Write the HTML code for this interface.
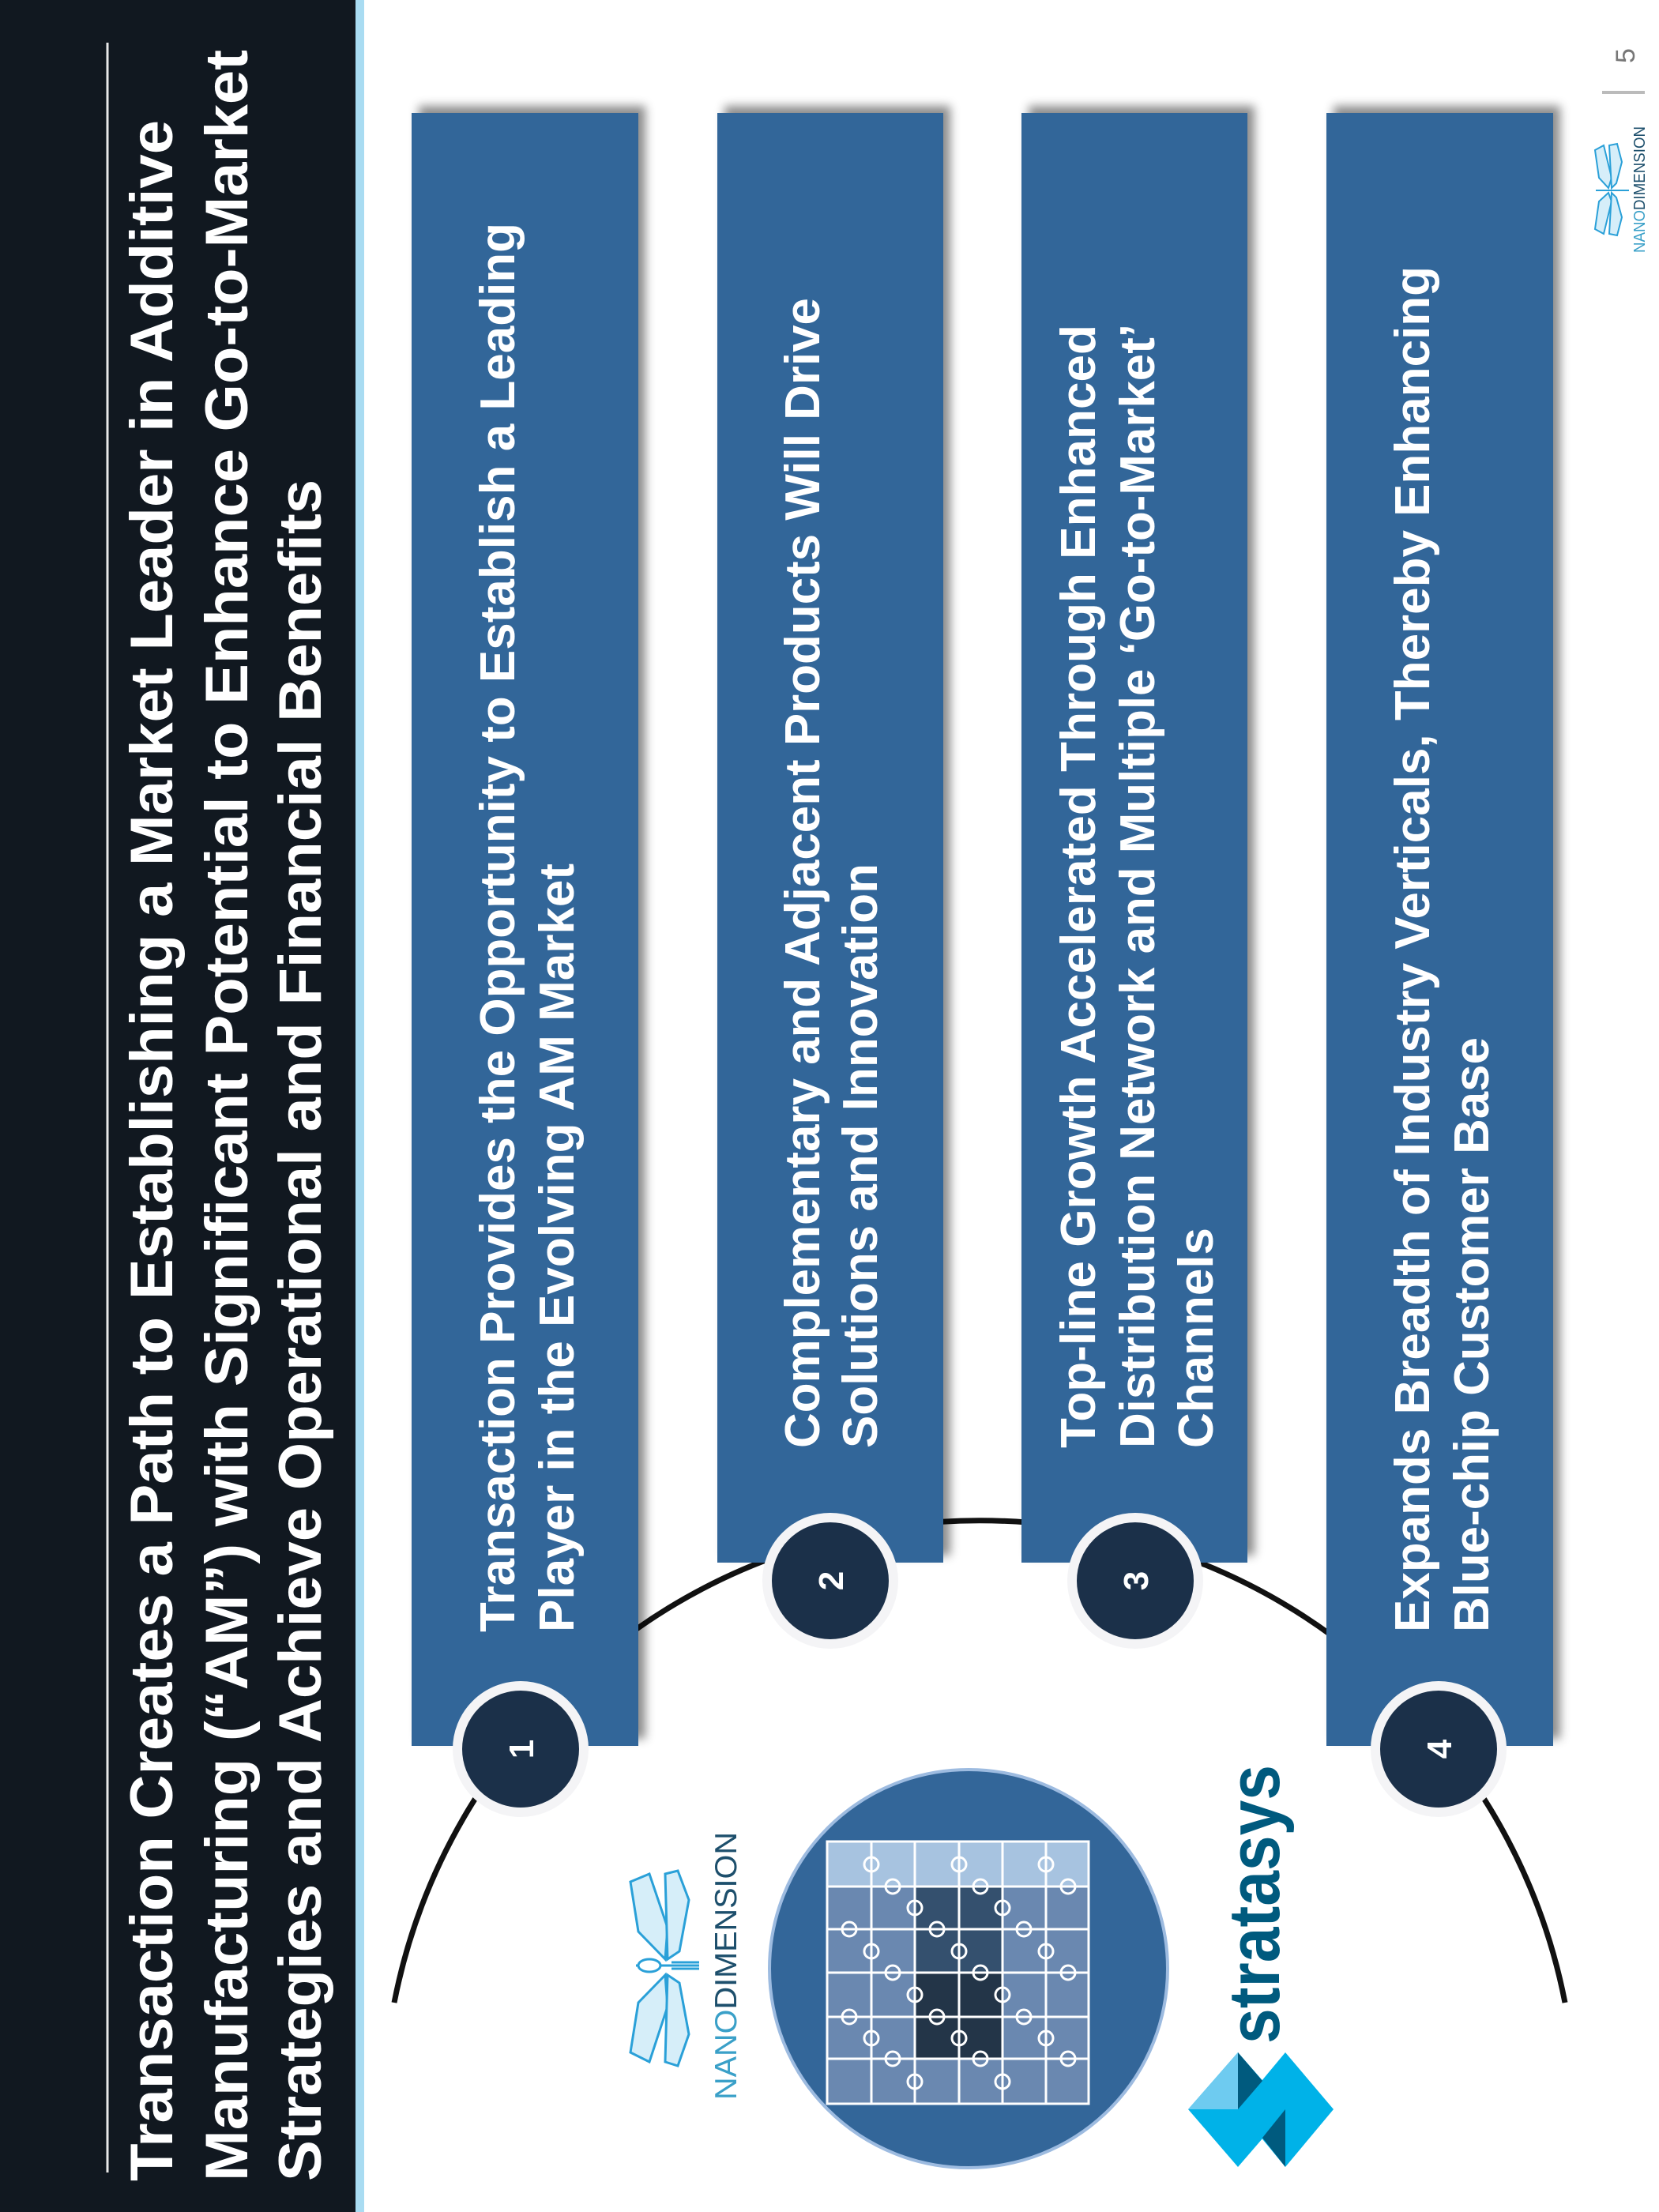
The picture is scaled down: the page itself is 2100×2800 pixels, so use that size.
<!DOCTYPE html>
<html><head><meta charset="utf-8"><style>
html,body{margin:0;padding:0;background:#fff;}
svg{display:block;}
text{font-family:"Liberation Sans",Arial,sans-serif;}
</style></head><body>
<svg width="2100" height="2800" viewBox="0 0 2100 2800" xmlns="http://www.w3.org/2000/svg">
<defs>
<filter id="sh" x="-10%" y="-10%" width="130%" height="120%">
<feDropShadow dx="9" dy="-9" stdDeviation="6" flood-color="#000" flood-opacity="0.45"/>
</filter>
</defs>
<rect width="2100" height="2800" fill="#fff"/>
<!-- title panel -->
<rect x="0" y="0" width="450" height="2800" fill="#111820"/>
<rect x="450" y="0" width="11" height="2800" fill="#a9dcf2"/>
<line x1="136" y1="54" x2="136" y2="2750" stroke="#e8e8e8" stroke-width="3"/>
<g fill="#fff" font-weight="bold" font-size="76">
<text x="218" y="2761" transform="rotate(-90 218 2761)" textLength="2609" lengthAdjust="spacingAndGlyphs">Transaction Creates a Path to Establishing a Market Leader in Additive</text>
<text x="313" y="2761" transform="rotate(-90 313 2761)" textLength="2698" lengthAdjust="spacingAndGlyphs">Manufacturing (“AM”) with Significant Potential to Enhance Go-to-Market</text>
<text x="406" y="2761" transform="rotate(-90 406 2761)" textLength="2154" lengthAdjust="spacingAndGlyphs">Strategies and Achieve Operational and Financial Benefits</text>
</g>
<!-- arc -->
<path d="M499 2535 A755 755 0 0 1 1981 2535" fill="none" stroke="#111" stroke-width="7"/>
<!-- bars -->
<g fill="#336699" filter="url(#sh)">
<rect x="521" y="143" width="287" height="2067"/>
<rect x="908" y="143" width="286" height="1835"/>
<rect x="1293" y="143" width="286" height="1835"/>
<rect x="1679" y="143" width="287" height="2067"/>
</g>
<g fill="#fff" font-weight="bold" font-size="62">
<text x="651" y="2066" transform="rotate(-90 651 2066)" textLength="1784" lengthAdjust="spacingAndGlyphs">Transaction Provides the Opportunity to Establish a Leading</text>
<text x="726" y="2066" transform="rotate(-90 726 2066)" textLength="973" lengthAdjust="spacingAndGlyphs">Player in the Evolving AM Market</text>
<text x="1037" y="1833" transform="rotate(-90 1037 1833)" textLength="1456" lengthAdjust="spacingAndGlyphs">Complementary and Adjacent Products Will Drive</text>
<text x="1110" y="1833" transform="rotate(-90 1110 1833)" textLength="740" lengthAdjust="spacingAndGlyphs">Solutions and Innovation</text>
<text x="1386" y="1833" transform="rotate(-90 1386 1833)" textLength="1422" lengthAdjust="spacingAndGlyphs">Top-line Growth Accelerated Through Enhanced</text>
<text x="1461" y="1833" transform="rotate(-90 1461 1833)" textLength="1423" lengthAdjust="spacingAndGlyphs">Distribution Network and Multiple ‘Go-to-Market’</text>
<text x="1535" y="1833" transform="rotate(-90 1535 1833)" textLength="279" lengthAdjust="spacingAndGlyphs">Channels</text>
<text x="1809" y="2066" transform="rotate(-90 1809 2066)" textLength="1729" lengthAdjust="spacingAndGlyphs">Expands Breadth of Industry Verticals, Thereby Enhancing</text>
<text x="1884" y="2066" transform="rotate(-90 1884 2066)" textLength="753" lengthAdjust="spacingAndGlyphs">Blue-chip Customer Base</text>
</g>
<!-- number circles -->
<g fill="#1b3049" stroke="#f4f4f6" stroke-width="12">
<circle cx="659" cy="2214" r="80"/>
<circle cx="1051" cy="2001" r="80"/>
<circle cx="1437" cy="2001" r="80"/>
<circle cx="1821" cy="2214" r="80"/>
</g>
<g fill="#fff" font-weight="bold" font-size="44" text-anchor="middle">
<text x="675" y="2214" transform="rotate(-90 675 2214)">1</text>
<text x="1067" y="2001" transform="rotate(-90 1067 2001)">2</text>
<text x="1453" y="2001" transform="rotate(-90 1453 2001)">3</text>
<text x="1837" y="2214" transform="rotate(-90 1837 2214)">4</text>
</g>
<!-- big puzzle circle -->
<circle cx="1226" cy="2492" r="252" fill="#336699" stroke="#9dbbe0" stroke-width="4"/>
<g stroke="#fff" stroke-width="3">
<rect x="1047" y="2331" width="331" height="332" fill="#6a88b0"/>
<rect x="1047" y="2331" width="331" height="57" fill="#a7c3e0"/>
<rect x="1158" y="2388" width="111" height="109" fill="#34506e"/>
<rect x="1158" y="2497" width="111" height="109" fill="#233548"/>
</g>
<g stroke="#fff" stroke-width="3" fill="none">
<line x1="1103" y1="2331" x2="1103" y2="2663"/>
<line x1="1158" y1="2331" x2="1158" y2="2663"/>
<line x1="1214" y1="2331" x2="1214" y2="2663"/>
<line x1="1269" y1="2331" x2="1269" y2="2663"/>
<line x1="1324" y1="2331" x2="1324" y2="2663"/>
<line x1="1047" y1="2388" x2="1378" y2="2388"/>
<line x1="1047" y1="2442" x2="1378" y2="2442"/>
<line x1="1047" y1="2497" x2="1378" y2="2497"/>
<line x1="1047" y1="2553" x2="1378" y2="2553"/>
<line x1="1047" y1="2606" x2="1378" y2="2606"/>
</g>
<g fill="none" stroke="#fff" stroke-width="3">
<circle cx="1103" cy="2360" r="9"/><circle cx="1214" cy="2360" r="9"/><circle cx="1324" cy="2360" r="9"/>
<circle cx="1130" cy="2388" r="9"/><circle cx="1241" cy="2388" r="9"/><circle cx="1352" cy="2388" r="9"/>
<circle cx="1158" cy="2415" r="9"/><circle cx="1269" cy="2415" r="9"/><circle cx="1075" cy="2442" r="9"/>
<circle cx="1186" cy="2442" r="9"/><circle cx="1296" cy="2442" r="9"/><circle cx="1103" cy="2470" r="9"/>
<circle cx="1214" cy="2470" r="9"/><circle cx="1324" cy="2470" r="9"/><circle cx="1130" cy="2497" r="9"/>
<circle cx="1241" cy="2497" r="9"/><circle cx="1352" cy="2497" r="9"/><circle cx="1158" cy="2525" r="9"/>
<circle cx="1269" cy="2525" r="9"/><circle cx="1075" cy="2553" r="9"/><circle cx="1186" cy="2553" r="9"/>
<circle cx="1296" cy="2553" r="9"/><circle cx="1103" cy="2580" r="9"/><circle cx="1214" cy="2580" r="9"/>
<circle cx="1324" cy="2580" r="9"/><circle cx="1130" cy="2606" r="9"/><circle cx="1241" cy="2606" r="9"/>
<circle cx="1352" cy="2606" r="9"/><circle cx="1158" cy="2635" r="9"/><circle cx="1269" cy="2635" r="9"/>
</g>
<!-- nano dimension logo (large) -->
<g fill="#d6eef9" stroke="#2aa0d8" stroke-width="3">
<polygon points="798,2382 822,2372 845,2440 842,2480 808,2445"/>
<polygon points="842,2372 858,2368 872,2405 860,2470 845,2480"/>
<polygon points="798,2598 822,2610 845,2540 842,2500 808,2535"/>
<polygon points="842,2610 858,2615 872,2575 860,2510 845,2500"/>
</g>
<g stroke="#2aa0d8" stroke-width="3" fill="#2aa0d8">
<line x1="805" y1="2488" x2="885" y2="2488"/>
<line x1="850" y1="2484" x2="885" y2="2484"/>
<line x1="850" y1="2492" x2="885" y2="2492"/>
<ellipse cx="822" cy="2488" rx="14" ry="8" fill="#fff"/>
</g>
<text x="932" y="2658" transform="rotate(-90 932 2658)" font-size="39" textLength="339" lengthAdjust="spacingAndGlyphs"><tspan fill="#3aa0c8" font-weight="normal">NANO</tspan><tspan fill="#1d4f6c">DIMENSION</tspan></text>
<!-- stratasys logo -->
<text x="1619" y="2587" transform="rotate(-90 1619 2587)" font-size="92" font-weight="bold" fill="#005a7e" textLength="353" lengthAdjust="spacingAndGlyphs">stratasys</text>
<polygon points="1567,2598 1504,2670 1567,2743 1630,2670" fill="#00b2e8"/>
<polygon points="1567,2598 1504,2670 1567,2670" fill="#6ecbf0"/>
<polygon points="1627,2598 1567,2670 1627,2743 1688,2670" fill="#00b2e8"/>
<polygon points="1567,2598 1598,2634 1567,2670" fill="#005a7e"/>
<polygon points="1627,2743 1598,2706 1627,2670" fill="#005a7e"/>
<!-- page number & small logo -->
<text x="2069" y="80" transform="rotate(-90 2069 80)" font-size="34" fill="#777">5</text>
<line x1="2028" y1="117" x2="2082" y2="117" stroke="#bbb" stroke-width="4"/>
<g fill="#d6eef9" stroke="#2aa0d8" stroke-width="2">
<polygon points="2019,190 2030,184 2040,225 2036,238 2024,225"/>
<polygon points="2037,184 2047,182 2053,205 2046,232 2040,238"/>
<polygon points="2019,290 2030,296 2040,255 2036,244 2024,255"/>
<polygon points="2037,296 2047,298 2053,275 2046,250 2040,244"/>
<line x1="2020" y1="241" x2="2062" y2="241"/>
</g>
<text x="2082" y="320" transform="rotate(-90 2082 320)" font-size="20" textLength="160" lengthAdjust="spacingAndGlyphs"><tspan fill="#3aa0c8">NANO</tspan><tspan fill="#1d4f6c">DIMENSION</tspan></text>
</svg>
</body></html>
